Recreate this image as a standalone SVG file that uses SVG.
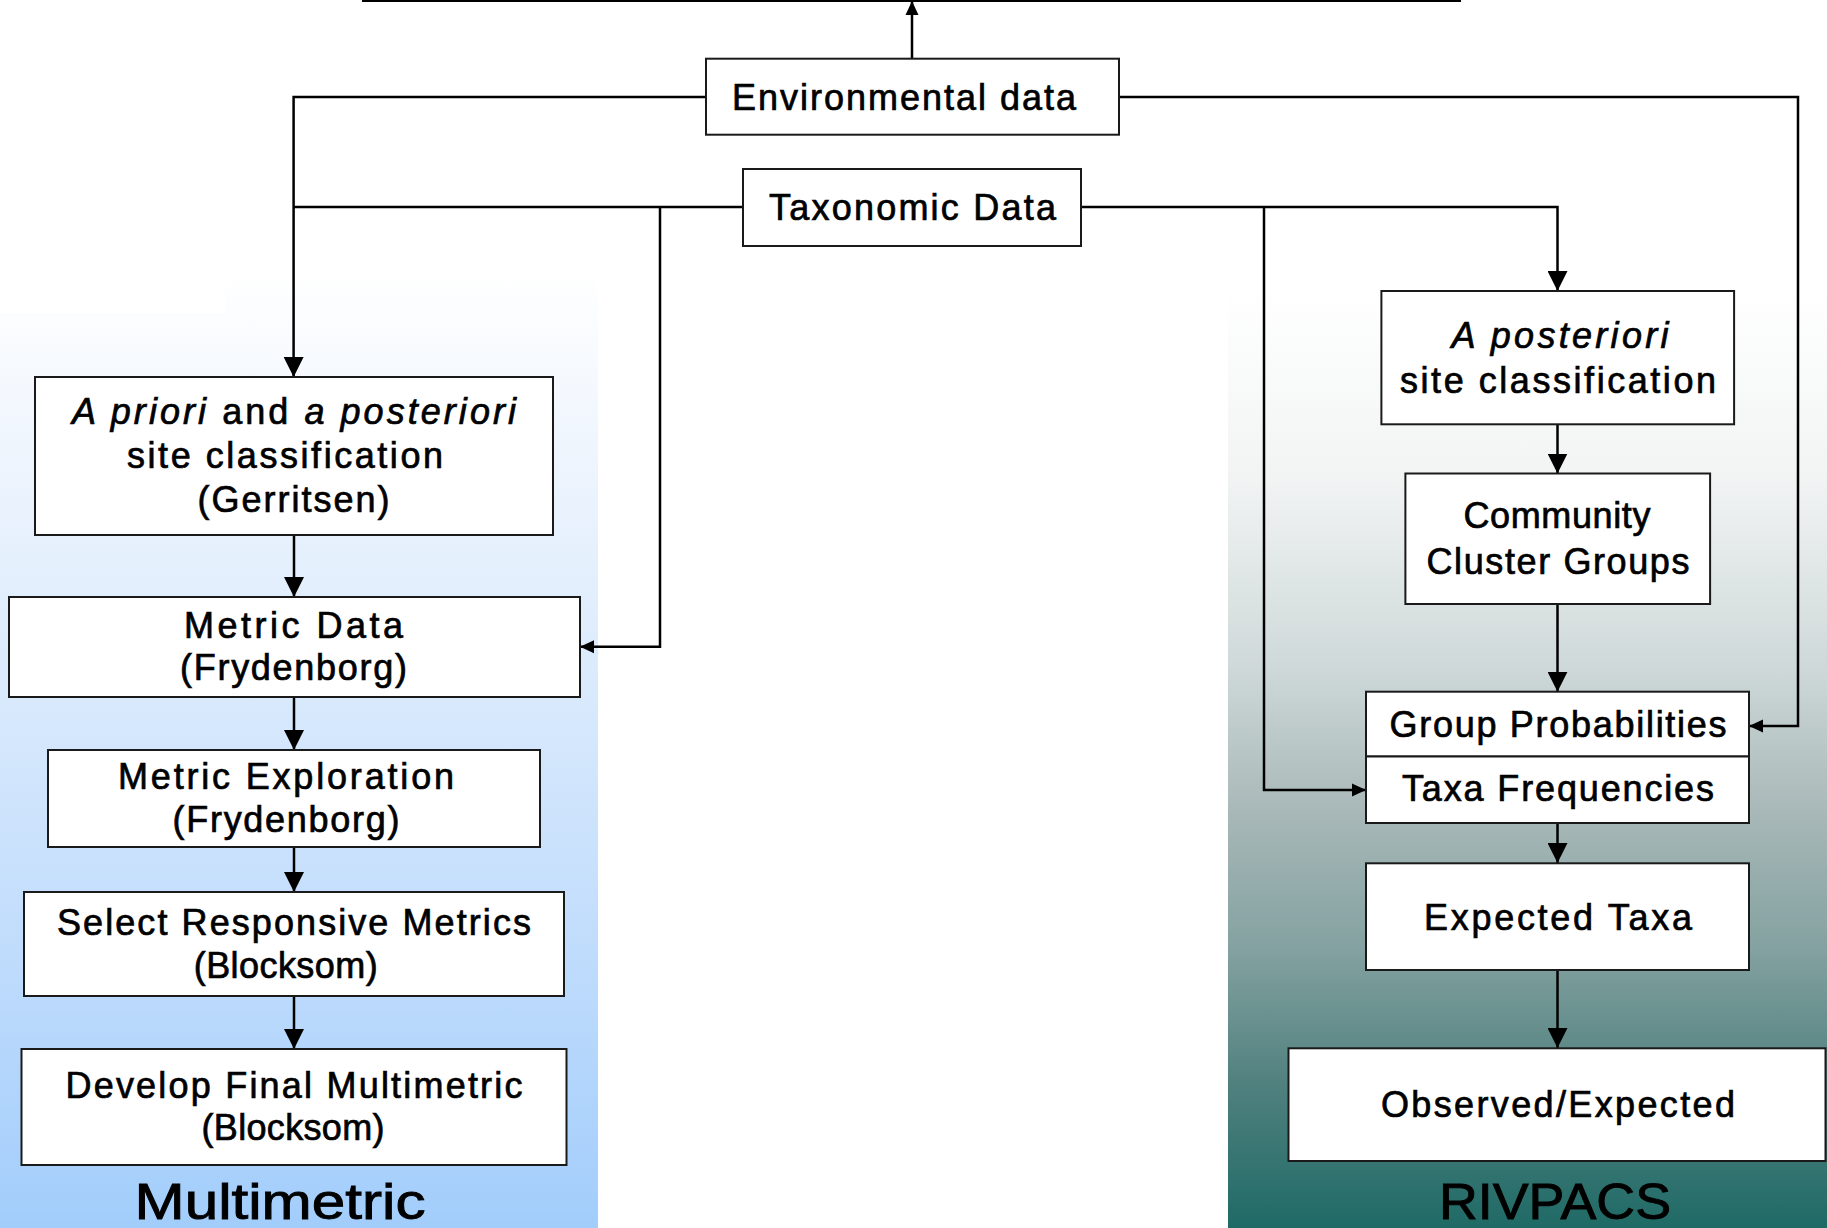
<svg xmlns="http://www.w3.org/2000/svg" width="1827" height="1228" viewBox="0 0 1827 1228">
<defs>
  <linearGradient id="gLeft" gradientUnits="userSpaceOnUse" x1="0" y1="272" x2="0" y2="1228">
    <stop offset="0" stop-color="#ffffff"/>
    <stop offset="0.15" stop-color="#f2f7fe"/>
    <stop offset="0.45" stop-color="#d8e9fc"/>
    <stop offset="0.75" stop-color="#bcdafc"/>
    <stop offset="1" stop-color="#a2cdfb"/>
  </linearGradient>
  <linearGradient id="gRight" gradientUnits="userSpaceOnUse" x1="0" y1="290" x2="0" y2="1228">
    <stop offset="0" stop-color="#ffffff"/>
    <stop offset="0.2" stop-color="#f2f4f4"/>
    <stop offset="0.4" stop-color="#cfd9d9"/>
    <stop offset="0.55" stop-color="#aab9b9"/>
    <stop offset="0.7" stop-color="#84a2a1"/>
    <stop offset="0.85" stop-color="#4f807e"/>
    <stop offset="1" stop-color="#1f6a66"/>
  </linearGradient>
  <marker id="big" markerUnits="userSpaceOnUse" markerWidth="20" markerHeight="20" refX="20" refY="10" orient="auto">
    <path d="M0,0 L20,10 L0,20 Z" fill="#000"/>
  </marker>
  <marker id="small" markerUnits="userSpaceOnUse" markerWidth="14" markerHeight="14" refX="14" refY="7" orient="auto">
    <path d="M0,0.5 L14,7 L0,13.5 Z" fill="#000"/>
  </marker>
  <style>
    .box { fill: #ffffff; stroke: #1a1a1a; stroke-width: 2; }
    .t { font-family: "Liberation Sans", Arial, sans-serif; font-size: 36px; fill: #000; stroke: #000; stroke-width: 0.7px; text-anchor: middle; }
    .lbl { font-family: "Liberation Sans", Arial, sans-serif; font-size: 50px; fill: #000; stroke: #000; stroke-width: 0.9px; text-anchor: middle; }
    .i { font-style: italic; }
    .c { fill: none; stroke: #000; stroke-width: 2.5; }
  </style>
</defs>

<rect x="0" y="0" width="1827" height="1228" fill="#ffffff"/>

<g id="panels">
  <rect x="0" y="272" width="598" height="956" fill="url(#gLeft)"/>
  <rect x="0" y="272" width="225" height="41" fill="#ffffff"/>
  <rect x="1228" y="290" width="599" height="938" fill="url(#gRight)"/>
  <text class="lbl" x="280" y="1219" textLength="291" lengthAdjust="spacingAndGlyphs">Multimetric</text>
  <text class="lbl" x="1555" y="1219" textLength="232" lengthAdjust="spacingAndGlyphs">RIVPACS</text>
</g>

<g id="connectors">
  <line x1="362" y1="1" x2="1461" y2="1" stroke="#000" stroke-width="2"/>
  <path class="c" d="M912,58.7 V1" marker-end="url(#small)"/>
  <path class="c" d="M706,97 H293.6 V377" marker-end="url(#big)"/>
  <path class="c" d="M743,207 H293.6"/>
  <path class="c" d="M660,207 V646.7 H580" marker-end="url(#small)"/>
  <path class="c" d="M1081,207 H1557.5 V291" marker-end="url(#big)"/>
  <path class="c" d="M1264,207 V790 H1366" marker-end="url(#small)"/>
  <path class="c" d="M1119,97 H1798 V726 H1749" marker-end="url(#small)"/>
  <path class="c" d="M294,535 V597" marker-end="url(#big)"/>
  <path class="c" d="M294,697 V750" marker-end="url(#big)"/>
  <path class="c" d="M294,847 V892" marker-end="url(#big)"/>
  <path class="c" d="M294,996 V1049" marker-end="url(#big)"/>
  <path class="c" d="M1557.5,424.3 V473.5" marker-end="url(#big)"/>
  <path class="c" d="M1557.5,604 V691.7" marker-end="url(#big)"/>
  <path class="c" d="M1557.5,823 V863" marker-end="url(#big)"/>
  <path class="c" d="M1557.5,970 V1048" marker-end="url(#big)"/>
</g>

<g id="env">
  <rect class="box" x="706" y="58.7" width="413" height="76"/>
  <text class="t" x="904" y="110" textLength="344" lengthAdjust="spacing">Environmental data</text>
</g>
<g id="tax">
  <rect class="box" x="743" y="169" width="338" height="77"/>
  <text class="t" x="912.5" y="220" textLength="287" lengthAdjust="spacing">Taxonomic Data</text>
</g>

<g id="apriori">
  <rect class="box" x="35" y="377" width="518" height="158"/>
  <text class="t" x="294" y="424" textLength="444" lengthAdjust="spacing"><tspan class="i">A priori</tspan> and <tspan class="i">a posteriori</tspan></text>
  <text class="t" x="285" y="468" textLength="316" lengthAdjust="spacing">site classification</text>
  <text class="t" x="293.6" y="512" textLength="192" lengthAdjust="spacing">(Gerritsen)</text>
</g>
<g id="metricdata">
  <rect class="box" x="9" y="597" width="571" height="100"/>
  <text class="t" x="293.6" y="638" textLength="219" lengthAdjust="spacing">Metric Data</text>
  <text class="t" x="293.5" y="680" textLength="227" lengthAdjust="spacing">(Frydenborg)</text>
</g>
<g id="metricexp">
  <rect class="box" x="48" y="750" width="492" height="97"/>
  <text class="t" x="286" y="789" textLength="336" lengthAdjust="spacing">Metric Exploration</text>
  <text class="t" x="286" y="832" textLength="227" lengthAdjust="spacing">(Frydenborg)</text>
</g>
<g id="select">
  <rect class="box" x="24" y="892" width="540" height="104"/>
  <text class="t" x="294" y="935" textLength="474" lengthAdjust="spacing">Select Responsive Metrics</text>
  <text class="t" x="285.7" y="978" textLength="184" lengthAdjust="spacing">(Blocksom)</text>
</g>
<g id="develop">
  <rect class="box" x="21.5" y="1049" width="545" height="116"/>
  <text class="t" x="294" y="1098" textLength="457" lengthAdjust="spacing">Develop Final Multimetric</text>
  <text class="t" x="293" y="1140" textLength="183" lengthAdjust="spacing">(Blocksom)</text>
</g>

<g id="aposteriori">
  <rect class="box" x="1381.4" y="291" width="352.7" height="133.3"/>
  <text class="t i" x="1560" y="348" textLength="217" lengthAdjust="spacing">A posteriori</text>
  <text class="t" x="1558" y="393" textLength="316" lengthAdjust="spacing">site classification</text>
</g>
<g id="community">
  <rect class="box" x="1405.4" y="473.5" width="304.7" height="130.5"/>
  <text class="t" x="1557" y="528" textLength="187" lengthAdjust="spacing">Community</text>
  <text class="t" x="1558" y="574" textLength="263" lengthAdjust="spacing">Cluster Groups</text>
</g>
<g id="groupprob">
  <rect class="box" x="1366" y="691.7" width="383" height="64.8"/>
  <text class="t" x="1558" y="737" textLength="337" lengthAdjust="spacing">Group Probabilities</text>
</g>
<g id="taxafreq">
  <rect class="box" x="1366" y="756.5" width="383" height="66.5"/>
  <text class="t" x="1558" y="801" textLength="312" lengthAdjust="spacing">Taxa Frequencies</text>
</g>
<g id="expected">
  <rect class="box" x="1366" y="863.3" width="383" height="106.7"/>
  <text class="t" x="1558" y="930" textLength="268" lengthAdjust="spacing">Expected Taxa</text>
</g>
<g id="observed">
  <rect class="box" x="1288.5" y="1048.3" width="537" height="112.7"/>
  <text class="t" x="1558" y="1117" textLength="354" lengthAdjust="spacing">Observed/Expected</text>
</g>
</svg>
